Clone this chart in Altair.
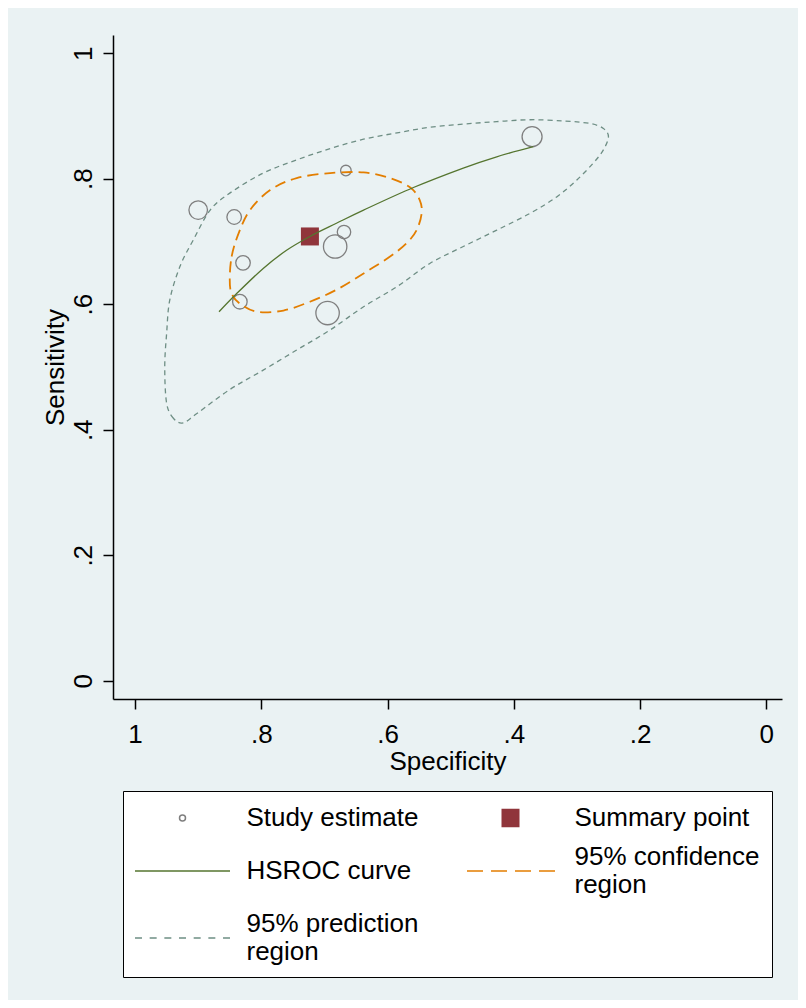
import altair as alt
import pandas as pd

FONT = "Liberation Sans"

# ---------------- data ----------------
legend_labels = ["Study estimate", "Summary point", "HSROC curve",
                 "95% confidence region", "95% prediction region"]
series_colors = ["#7f7f7f", "#90353b", "#55752f", "#e37e00", "#6e8e84"]

study_spec = [0.900, 0.843, 0.829, 0.834, 0.666, 0.669, 0.683, 0.695, 0.371]
study_sens = [0.750, 0.739, 0.666, 0.604, 0.813, 0.715, 0.692, 0.586, 0.867]
study_weight = [86, 53, 53, 53, 28, 45, 137, 137, 100]

summary_spec = [0.723]
summary_sens = [0.708]

hsroc_spec = [0.867, 0.839, 0.797, 0.760, 0.723, 0.681, 0.638, 0.559, 0.480, 0.427, 0.369]
hsroc_sens = [0.588, 0.617, 0.657, 0.686, 0.708, 0.729, 0.750, 0.786, 0.817, 0.835, 0.851]

conf_spec = [0.850, 0.847, 0.836, 0.818, 0.786, 0.744, 0.691, 0.638, 0.596, 0.564, 0.549,
             0.546, 0.554, 0.570, 0.596, 0.638, 0.681, 0.723, 0.765, 0.807, 0.834, 0.847]
conf_sens = [0.639, 0.676, 0.713, 0.750, 0.782, 0.801, 0.809, 0.810, 0.801, 0.786, 0.766,
             0.745, 0.718, 0.697, 0.676, 0.649, 0.623, 0.604, 0.590, 0.588, 0.601, 0.617]

pred_spec = [0.924, 0.939, 0.950, 0.953, 0.950, 0.945, 0.929, 0.908, 0.881, 0.850, 0.797,
             0.744, 0.691, 0.638, 0.585, 0.533, 0.480, 0.427, 0.374, 0.321, 0.279, 0.258,
             0.250, 0.258, 0.274, 0.300, 0.332, 0.374, 0.427, 0.480, 0.533, 0.585, 0.638,
             0.691, 0.744, 0.797, 0.850, 0.902]
pred_sens = [0.411, 0.418, 0.442, 0.500, 0.554, 0.607, 0.660, 0.702, 0.750, 0.777, 0.809,
             0.830, 0.848, 0.863, 0.873, 0.882, 0.887, 0.891, 0.894, 0.892, 0.888, 0.880,
             0.867, 0.846, 0.825, 0.798, 0.771, 0.745, 0.718, 0.692, 0.665, 0.628, 0.596,
             0.559, 0.527, 0.495, 0.464, 0.426]

axis_ticks = [0, 0.2, 0.4, 0.6, 0.8, 1]


def frame(spec, sens, **extra):
    d = pd.DataFrame({"spec": spec, "sens": sens})
    d["idx"] = range(len(d))
    for k, v in extra.items():
        d[k] = v
    return d


study_df = frame(study_spec, study_sens, weight=study_weight)
summary_df = frame(summary_spec, summary_sens)
hsroc_df = frame(hsroc_spec, hsroc_sens)
conf_df = frame(conf_spec, conf_sens)
pred_df = frame(pred_spec, pred_sens)

# ---------------- legend key symbols ----------------
# symbol box size (px) per entry; the larger box lowers the single-line HSROC entry
# so that it lines up with the centre of the two-line entry beside it
key_px = [28, 28, 56.5, 28, 28]
key_sizes = [round(p * p, 2) for p in key_px]
TWO_LINE_DROP = 14  # px: centre the key between the two lines of a wrapped label


def path_for(kind, px):
    h = px / 2.0

    def q(v):
        return round(v / h, 4)

    if kind == "circle":
        r = q(3)
        return f"M{r},0A{r},{r},0,1,1,{-r},0A{r},{r},0,1,1,{r},0Z"
    if kind == "square":
        return "".join(f"M{q(-9)},{q(y / 10)}H{q(9)}" for y in range(-84, 85, 12))
    if kind == "solid":
        return f"M{q(-47.5)},0H{q(47.5)}"
    dy = q(TWO_LINE_DROP)
    if kind == "dash":
        return "".join(f"M{q(a - 47.5)},{dy}H{q(a + 16 - 47.5)}" for a in (4, 28, 52, 76))
    # short dash
    return "".join(f"M{q(i * 14.67 - 47.5)},{dy}H{q(i * 14.67 + 7 - 47.5)}" for i in range(7))


key_kinds = ["circle", "square", "solid", "dash", "shortdash"]
legend_shapes = [path_for(k, p) for k, p in zip(key_kinds, key_px)]

label_expr = ("length(datum.label) > 14 ? [slice(datum.label, 0, lastindexof(datum.label, ' ')), "
              "slice(datum.label, lastindexof(datum.label, ' ') + 1)] : datum.label")

legend = alt.Legend(
    title=None,
    orient="none",
    legendX=10,
    legendY=756,
    direction="horizontal",
    columns=2,
    fillColor="white",
    strokeColor="black",
    padding=12,
    rowPadding=11,
    columnPadding=44,
    labelOffset=35,
    labelFont=FONT,
    labelFontSize=26,
    labelColor="black",
    labelLimit=0,
    labelExpr=label_expr,
    symbolOffset=18.5,
    symbolStrokeWidth=1.5,
    symbolOpacity=1,
)

tick_label_expr = "replace(format(datum.value, '.1~f'), '0.', '.')"

common_axis = dict(
    values=axis_ticks, labelExpr=tick_label_expr, grid=False,
    domainColor="black", domainWidth=1.5, tickColor="black", tickWidth=1.5, tickSize=10,
    labelFont=FONT, labelFontSize=26, labelColor="black", labelFlush=False, labelOverlap=False,
    titleFont=FONT, titleFontSize=26, titleColor="black", titleFontWeight="normal",
)

x_enc = alt.X("spec:Q", title="Specificity",
              scale=alt.Scale(domain=[-0.025, 1.035], reverse=True, nice=False, zero=False),
              axis=alt.Axis(labelPadding=12, titlePadding=1, **common_axis))
y_enc = alt.Y("sens:Q", title="Sensitivity",
              scale=alt.Scale(domain=[-0.029, 1.029], nice=False, zero=False),
              axis=alt.Axis(labelAngle=270, labelAlign="center", labelBaseline="alphabetic",
                            labelPadding=12, titlePadding=2, **common_axis))

study = alt.Chart(study_df).mark_point(
    shape="circle", filled=False, strokeWidth=1.3, opacity=1, color=series_colors[0]
).encode(
    x=x_enc, y=y_enc,
    size=alt.Size("weight:Q", scale=alt.Scale(domain=[0, 100], range=[0, 400]), legend=None),
)
summary = alt.Chart(summary_df).mark_square(
    size=324, filled=True, opacity=1, color=series_colors[1]
).encode(x=x_enc, y=y_enc)
pred = alt.Chart(pred_df).mark_line(
    strokeWidth=1.3, strokeDash=[5, 4], interpolate="cardinal-closed", color=series_colors[4]
).encode(x=x_enc, y=y_enc, order=alt.Order("idx:Q"))
conf = alt.Chart(conf_df).mark_line(
    strokeWidth=1.8, strokeDash=[11, 6], interpolate="cardinal-closed", color=series_colors[3]
).encode(x=x_enc, y=y_enc, order=alt.Order("idx:Q"))
hsroc = alt.Chart(hsroc_df).mark_line(
    strokeWidth=1.3, interpolate="cardinal", color=series_colors[2]
).encode(x=x_enc, y=y_enc, order=alt.Order("idx:Q"))

# legend key layer: no rows, only carries the legend scales
key_df = pd.DataFrame({"series": pd.Series([], dtype=str)})
key = alt.Chart(key_df).mark_point(filled=False, opacity=1).encode(
    stroke=alt.Stroke("series:N", scale=alt.Scale(domain=legend_labels, range=series_colors),
                      legend=legend),
    shape=alt.Shape("series:N", scale=alt.Scale(domain=legend_labels, range=legend_shapes),
                    legend=legend),
    size=alt.Size("series:N", scale=alt.Scale(type="ordinal", domain=legend_labels, range=key_sizes),
                  legend=legend),
)

chart = alt.layer(study, summary, pred, conf, hsroc, key).resolve_scale(
    size="independent", stroke="independent", shape="independent"
).properties(
    width=669,
    height=664,
    background="#eaf2f3",
    autosize=alt.AutoSizeParams(type="none"),
    padding={"left": 105, "top": 27, "right": 16, "bottom": 301},
).configure_view(fill="white", stroke=None)

chart.save("out.html", embed_options={"renderer": "svg", "actions": False})
